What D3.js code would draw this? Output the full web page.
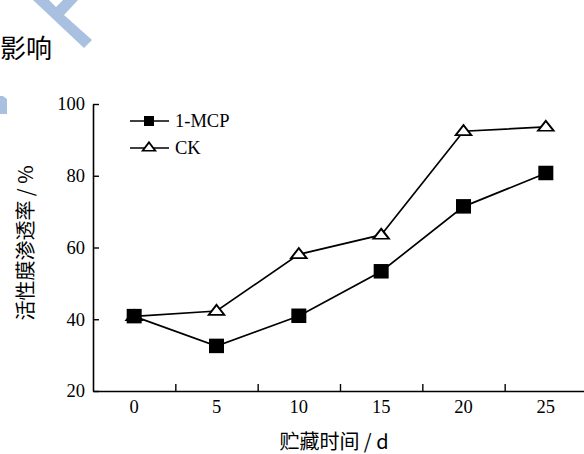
<!DOCTYPE html>
<html>
<head>
<meta charset="utf-8">
<script src="https://cdn.jsdelivr.net/npm/d3@7"></script>
<style>
  body { margin: 0; background: #fff; }
  svg { display: block; }
</style>
</head>
<body>
<div id="chart"></div>
<script>
const days = [0, 5, 10, 15, 20, 25];
const mcp = [40.8, 32.5, 40.9, 53.3, 71.4, 80.7];
const ck = [40.8, 42.3, 58.1, 63.5, 92.4, 93.6];
const yTicks = [20, 40, 60, 80, 100];
const seriesNames = ["1-MCP", "CK"];

const width = 584, height = 454;
const serif = "'Liberation Serif', 'Times New Roman', serif";
const cjk = "'Noto Sans CJK SC', sans-serif";

const svg = d3.select("#chart")
  .append("svg")
  .attr("width", width)
  .attr("height", height)
  .attr("viewBox", [0, 0, width, height]);

// watermark fragments
svg.append("polygon")
  .attr("points", "33,0 49,0 56,7 63,0 78,0 64,15 92,40 84,48")
  .attr("fill", "#a9c0e0");
svg.append("polygon")
  .attr("points", "0,96 3,96 7,99 7,114 0,114")
  .attr("fill", "#a9c0e0");

// title fragment
svg.append("text")
  .attr("x", 0)
  .attr("y", 58)
  .attr("font-family", cjk)
  .attr("font-size", 26)
  .text("影响");

const x = d3.scaleLinear().domain([-2.5, 27.5]).range([93, 587]);
const y = d3.scaleLinear().domain([20, 100]).range([391, 104]);

// axes
svg.append("g")
  .attr("transform", `translate(0,${y(20)})`)
  .call(d3.axisBottom(x).tickValues([2.5, 7.5, 12.5, 17.5, 22.5]).tickSizeInner(-7).tickSizeOuter(0).tickFormat(""))
  .call(g => g.select(".domain").attr("stroke-width", 1.6))
  .call(g => g.selectAll(".tick line").attr("stroke-width", 1.4));

svg.append("g")
  .attr("transform", `translate(${x(-2.5)},0)`)
  .call(d3.axisLeft(y).tickValues(yTicks).tickSizeInner(-6).tickSizeOuter(0).tickPadding(8))
  .call(g => g.select(".domain").attr("stroke-width", 1.6))
  .call(g => g.selectAll(".tick line").attr("stroke-width", 1.4))
  .call(g => g.selectAll(".tick text")
    .attr("x", -8)
    .attr("font-family", serif)
    .attr("font-size", 18.5)
    .attr("fill", "#000"));

// x labels
svg.append("g")
  .selectAll("text")
  .data(days)
  .join("text")
  .attr("x", d => x(d))
  .attr("y", 413)
  .attr("text-anchor", "middle")
  .attr("font-family", serif)
  .attr("font-size", 18.5)
  .text(d => d);

// axis titles
svg.append("text")
  .attr("x", 334)
  .attr("y", 449)
  .attr("text-anchor", "middle")
  .attr("font-family", cjk)
  .attr("font-size", 20)
  .text("贮藏时间 / d");

svg.append("text")
  .attr("transform", "translate(33,243) rotate(-90)")
  .attr("text-anchor", "middle")
  .attr("font-family", cjk)
  .attr("font-size", 20)
  .text("活性膜渗透率 / %");

const line = d3.line()
  .x((d, i) => x(days[i]))
  .y(d => y(d));

const tri = d3.symbol().type(d3.symbolTriangle);

// CK series
svg.append("path")
  .datum(ck)
  .attr("d", line)
  .attr("fill", "none")
  .attr("stroke", "#000")
  .attr("stroke-width", 1.7);

svg.append("g")
  .selectAll("path")
  .data(ck)
  .join("path")
  .attr("transform", (d, i) => `translate(${x(days[i])},${y(d) + 0.5}) scale(1.35,1)`)
  .attr("d", tri.size(58))
  .attr("fill", "#fff")
  .attr("stroke", "#000")
  .attr("stroke-width", 1.6);

// 1-MCP series
svg.append("path")
  .datum(mcp)
  .attr("d", line)
  .attr("fill", "none")
  .attr("stroke", "#000")
  .attr("stroke-width", 1.7);

svg.append("g")
  .selectAll("rect")
  .data(mcp)
  .join("rect")
  .attr("x", (d, i) => x(days[i]) - 7.5)
  .attr("y", d => y(d) - 7.5)
  .attr("width", 15)
  .attr("height", 14.5)
  .attr("fill", "#000");

// legend
const legend = svg.append("g");
const legY = [121, 148];
legend.selectAll("line")
  .data(seriesNames)
  .join("line")
  .attr("x1", 130)
  .attr("x2", 169)
  .attr("y1", (d, i) => legY[i])
  .attr("y2", (d, i) => legY[i])
  .attr("stroke", "#000")
  .attr("stroke-width", 1.7);
legend.append("rect")
  .attr("x", 144)
  .attr("y", legY[0] - 5)
  .attr("width", 10)
  .attr("height", 10)
  .attr("fill", "#000");
legend.append("path")
  .attr("transform", `translate(149,${legY[1]}) scale(1.3,1)`)
  .attr("d", d3.symbol().type(d3.symbolTriangle).size(42)())
  .attr("fill", "#fff")
  .attr("stroke", "#000")
  .attr("stroke-width", 1.5);
legend.selectAll("text")
  .data(seriesNames)
  .join("text")
  .attr("x", 175)
  .attr("y", (d, i) => legY[i] + 6)
  .attr("font-family", serif)
  .attr("font-size", 18.5)
  .text(d => d);
</script>
</body>
</html>
